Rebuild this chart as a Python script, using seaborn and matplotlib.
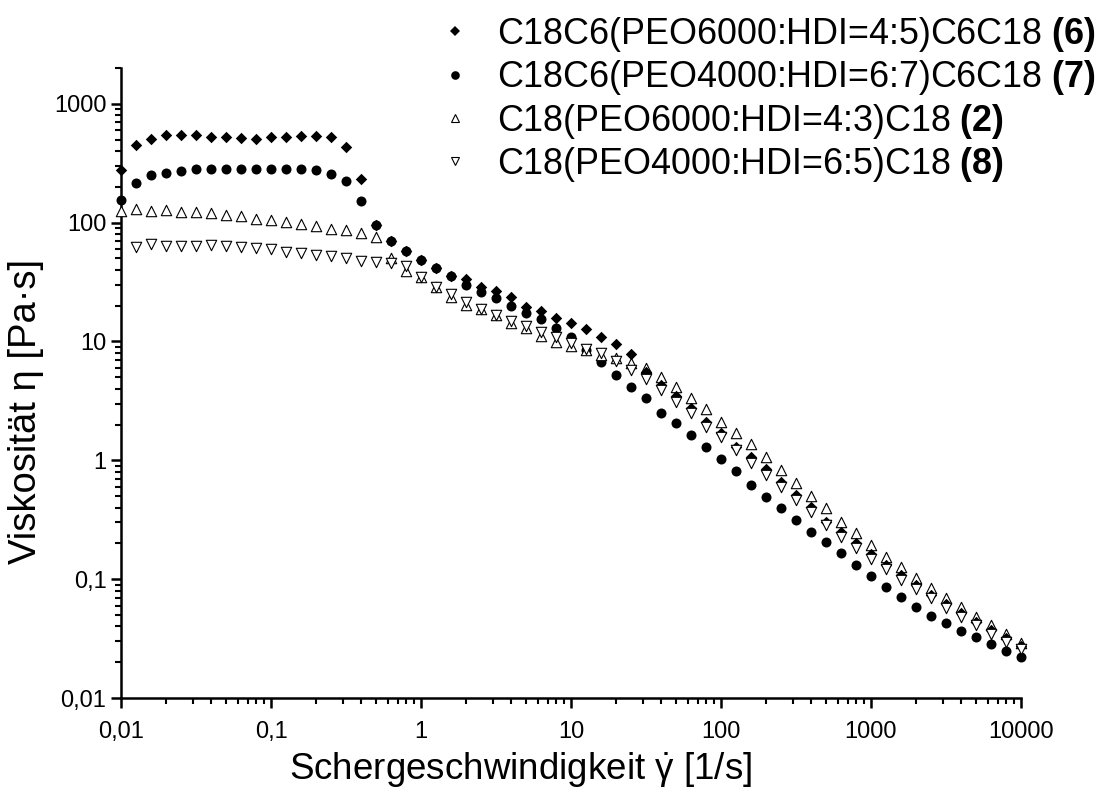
import numpy as np
import pandas as pd
import matplotlib
matplotlib.use("Agg")
import matplotlib.pyplot as plt
from matplotlib.lines import Line2D
from matplotlib.ticker import FixedLocator, FixedFormatter, LogLocator, NullFormatter
import seaborn as sns

# Shear rates of the flow curve [1/s]
shear_rate = [0.01, 0.0126, 0.0158, 0.02, 0.0251, 0.0316, 0.0398, 0.0501, 0.0631, 0.0794,
              0.1, 0.126, 0.158, 0.2, 0.251, 0.316, 0.398, 0.501, 0.631, 0.794,
              1, 1.26, 1.58, 2, 2.51, 3.16, 3.98, 5.01, 6.31, 7.94,
              10, 12.6, 15.8, 20, 25.1, 31.6, 39.8, 50.1, 63.1, 79.4,
              100, 126, 158, 200, 251, 316, 398, 501, 631, 794,
              1000, 1260, 1580, 2000, 2510, 3160, 3980, 5010, 6310, 7940, 10000]

# Viscosities [Pa s]
eta_6 = [278, 452, 505, 548, 548, 548, 530, 525, 514, 508, 521, 530, 538, 538, 521, 433, 234,
         95, 70, 58, 48.6, 41.4, 35.7, 33.4, 28.6, 26.8, 23.6, 19.5, 17.9, 15.7, 14.3, 12.8,
         11.0, 9.55, 7.86, 5.55, 4.31, 3.48, 2.76, 2.12, 1.69, 1.30, 1.06, 0.841, 0.662, 0.511,
         0.408, 0.305, 0.251, 0.203, 0.163, 0.132, 0.108, 0.0894, 0.0736, 0.0618, 0.0522,
         0.0439, 0.0374, 0.0318, 0.0274]
eta_7 = [156, 215, 252, 264, 273, 282, 282, 282, 282, 285, 285, 285, 282, 278, 258, 226, 153,
         95, 70.7, 57.9, 48.6, 41.4, 35.7, 30, 26.3, 23.1, 20, 17.5, 15.5, 12.9, 10.9, 8.5,
         6.77, 5.24, 4.12, 3.33, 2.52, 2.05, 1.64, 1.30, 1.03, 0.819, 0.621, 0.489, 0.395, 0.315,
         0.251, 0.206, 0.165, 0.132, 0.106, 0.0855, 0.0704, 0.058, 0.049, 0.0425, 0.0369,
         0.0328, 0.0285, 0.025, 0.022]
eta_2 = [126, 130, 126, 128, 124, 124, 120, 116, 113, 108, 106, 101, 98, 93, 88, 86, 82,
         75, 50, 39.5, 35.2, 28.6, 23.5, 20.3, 18.7, 16.7, 14.3, 13.0, 11.2, 9.9, 9.1, 8.4,
         7.7, 7.2, 6.6, 5.96, 5.0, 4.12, 3.35, 2.69, 2.12, 1.71, 1.37, 1.07, 0.83, 0.649,
         0.501, 0.395, 0.305, 0.243, 0.194, 0.155, 0.126, 0.102, 0.0838, 0.069, 0.058,
         0.0483, 0.0411, 0.0346, 0.0292]
eta_8 = [np.nan, 62, 66, 63, 63, 63, 65, 63, 62, 61, 60, 57, 56, 53, 52, 50, 48,
         47, 46, 43.5, 35.2, 28.6, 25, 21.5, 18.7, 16.7, 15.0, 13.5, 12.0, 10.8, 9.8, 8.6,
         8.0, 6.9, 5.8, 4.82, 3.91, 3.12, 2.5, 1.92, 1.56, 1.22, 0.957, 0.754, 0.594, 0.464,
         0.37, 0.286, 0.228, 0.182, 0.147, 0.121, 0.0984, 0.0822, 0.069, 0.0569, 0.0483,
         0.0411, 0.0346, 0.0298, 0.0257]

sample_names = ["C18C6(PEO6000:HDI=4:5)C6C18", "C18C6(PEO4000:HDI=6:7)C6C18",
                "C18(PEO6000:HDI=4:3)C18", "C18(PEO4000:HDI=6:5)C18"]
sample_ids = ["6", "7", "2", "8"]

x_ticks = [0.01, 0.1, 1, 10, 100, 1000, 10000]
x_tick_labels = ["0,01", "0,1", "1", "10", "100", "1000", "10000"]
y_ticks = [0.01, 0.1, 1, 10, 100, 1000]
y_tick_labels = ["0,01", "0,1", "1", "10", "100", "1000"]

sns.set_style("ticks")
plt.rcParams["font.family"] = ["Liberation Sans", "DejaVu Sans"]
plt.rcParams["mathtext.fontset"] = "custom"
plt.rcParams["mathtext.rm"] = "Liberation Sans"
plt.rcParams["mathtext.bf"] = "Liberation Sans:bold"
plt.rcParams["mathtext.it"] = "Liberation Sans:italic"
plt.rcParams["text.color"] = "black"
plt.rcParams["axes.labelcolor"] = "black"
plt.rcParams["xtick.color"] = "black"
plt.rcParams["ytick.color"] = "black"

df = pd.DataFrame({"shear_rate": shear_rate, "6": eta_6, "7": eta_7, "2": eta_2, "8": eta_8})
long_df = df.melt(id_vars="shear_rate", var_name="sample", value_name="eta").dropna()

W, H = 1098, 799
fig = plt.figure(figsize=(W / 100, H / 100), dpi=100)
ax = fig.add_axes([121 / W, 1 - 698 / H, 900 / W, 630 / H])

# marker style per sample: (marker, size, face, edge, linewidth, zorder)
styles = {
    "7": ("o", 52, "black", "black", 0.0, 3),
    "2": ("^", 56, "white", "black", 0.8, 4),
    "6": ("D", 34, "black", "black", 0.0, 5),
    "8": ("v", 56, "white", "black", 0.8, 6),
}
for sid, (mk, size, face, edge, lw, z) in styles.items():
    sub = long_df[long_df["sample"] == sid]
    sns.scatterplot(data=sub, x="shear_rate", y="eta", marker=mk, s=size,
                    color=face, edgecolor=edge, linewidth=lw, zorder=z,
                    clip_on=False, legend=False, ax=ax)

ax.set_xscale("log")
ax.set_yscale("log")
ax.set_xlim(0.01, 10000)
ax.set_ylim(0.01, 2000)

ax.xaxis.set_major_locator(FixedLocator(x_ticks))
ax.xaxis.set_major_formatter(FixedFormatter(x_tick_labels))
ax.yaxis.set_major_locator(FixedLocator(y_ticks))
ax.yaxis.set_major_formatter(FixedFormatter(y_tick_labels))
ax.xaxis.set_minor_locator(LogLocator(base=10, subs=np.arange(2, 10)))
ax.yaxis.set_minor_locator(LogLocator(base=10, subs=np.arange(2, 10)))
ax.xaxis.set_minor_formatter(NullFormatter())
ax.yaxis.set_minor_formatter(NullFormatter())

sns.despine(ax=ax)
for side in ("left", "bottom"):
    ax.spines[side].set_linewidth(1.8)
    ax.spines[side].set_color("black")
ax.tick_params(axis="both", which="major", direction="out", length=7.5, width=1.8,
               color="black", labelsize=17, labelcolor="black")
ax.tick_params(axis="both", which="minor", direction="out", length=4.5, width=1.5,
               color="black")
ax.tick_params(axis="x", which="major", pad=9)
ax.tick_params(axis="y", which="major", pad=3)

ax.set_xlabel(r"Schergeschwindigkeit $\dot{\mathrm{\gamma}}$ [1/s]", fontsize=26.5,
              color="black")
ax.set_ylabel("Viskosität η [Pa·s]", fontsize=27.5, color="black")
ax.xaxis.set_label_coords(0.444, -0.083)
ax.yaxis.set_label_coords(-0.085, 0.455)

handles = [
    Line2D([], [], linestyle="none", marker="D", markersize=4.6, markerfacecolor="black",
           markeredgecolor="black", markeredgewidth=0),
    Line2D([], [], linestyle="none", marker="o", markersize=6.2, markerfacecolor="black",
           markeredgecolor="black", markeredgewidth=0),
    Line2D([], [], linestyle="none", marker="^", markersize=5.2, markerfacecolor="white",
           markeredgecolor="black", markeredgewidth=0.8),
    Line2D([], [], linestyle="none", marker="v", markersize=5.2, markerfacecolor="white",
           markeredgecolor="black", markeredgewidth=0.8),
]
labels = [f"{n} $\\mathbf{{({i})}}$" for n, i in zip(sample_names, sample_ids)]
leg = fig.legend(handles, labels, loc="upper left", bbox_to_anchor=(437 / W, 1 - 15 / H),
                 frameon=False, fontsize=25.8, handlelength=1.0, handletextpad=0.68,
                 labelspacing=0.12, borderpad=0, borderaxespad=0)
for t in leg.get_texts():
    t.set_color("black")

fig.savefig("out.png", dpi=100)
